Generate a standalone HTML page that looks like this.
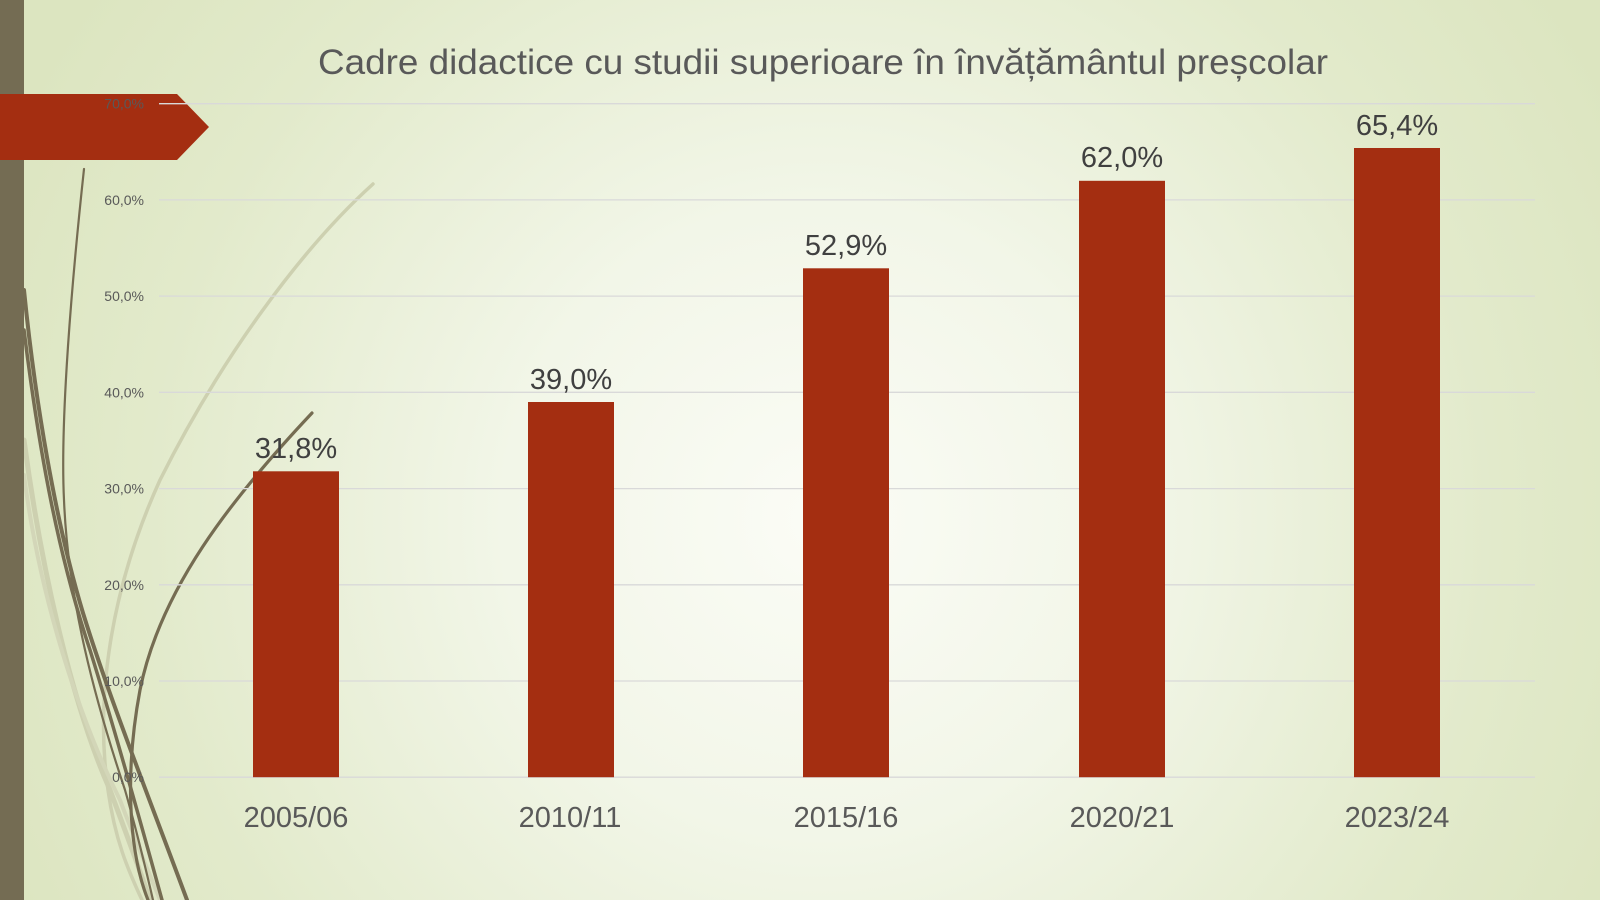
<!DOCTYPE html>
<html>
<head>
<meta charset="utf-8">
<style>
  html, body { margin:0; padding:0; width:1600px; height:900px; overflow:hidden; }
  svg { display:block; }
  text { font-family: "Liberation Sans", "DejaVu Sans", sans-serif; }
</style>
</head>
<body>
<svg width="1600" height="900" viewBox="0 0 1600 900" xmlns="http://www.w3.org/2000/svg">
  <defs>
    <radialGradient id="bg" gradientUnits="userSpaceOnUse" cx="820" cy="520" r="900">
      <stop offset="0" stop-color="#fbfcf6"/>
      <stop offset="0.35" stop-color="#f2f6e8"/>
      <stop offset="0.75" stop-color="#e2eacb"/>
      <stop offset="1" stop-color="#dce5c0"/>
    </radialGradient>
  </defs>
  <rect x="0" y="0" width="1600" height="900" fill="url(#bg)"/>

  <!-- light wisp curves -->
  <g fill="none" stroke="#cdd0b0" stroke-linecap="round">
    <path d="M373,184 C300,250 220,360 160,480 C110,590 95,700 108,790 C115,840 128,870 142,900" stroke-width="3.5"/>
    <path d="M24,440 C40,560 70,700 110,790 C125,830 138,865 150,900" stroke-width="5"/>
    <path d="M24,475 C40,600 80,720 120,800 C135,840 148,870 160,900" stroke-width="4" stroke="#d3d6b8"/>
  </g>

  <!-- dark wisp curves -->
  <g fill="none" stroke="#756c52" stroke-linecap="round">
    <path d="M84,169 C72,280 60,420 64,500 C68,600 95,700 125,790 C138,835 146,870 153,900" stroke-width="2.2"/>
    <path d="M24,290 C35,400 55,520 83,613 C110,700 150,800 187,900" stroke-width="4"/>
    <path d="M24,330 C40,460 60,560 90,650 C115,730 140,820 162,900" stroke-width="3.5"/>
    <path d="M312,413 C230,500 160,590 140,690 C125,770 128,850 148,900" stroke-width="3.2"/>
  </g>

  <!-- left bar -->
  <rect x="0" y="0" width="24" height="900" fill="#746c53"/>

  <!-- red arrow -->
  <polygon points="0,94 177,94 209,127 177,160 0,160" fill="#a42e11"/>

  <!-- gridlines -->
  <g stroke="#d9d9d9" stroke-width="1.3">
    <line x1="159" y1="103.7" x2="1535" y2="103.7"/>
    <line x1="159" y1="199.9" x2="1535" y2="199.9"/>
    <line x1="159" y1="296.1" x2="1535" y2="296.1"/>
    <line x1="159" y1="392.3" x2="1535" y2="392.3"/>
    <line x1="159" y1="488.6" x2="1535" y2="488.6"/>
    <line x1="159" y1="584.8" x2="1535" y2="584.8"/>
    <line x1="159" y1="681.0" x2="1535" y2="681.0"/>
    <line x1="159" y1="777.2" x2="1535" y2="777.2"/>
  </g>

  <!-- tick labels -->
  <g fill="#595959" font-size="14" text-anchor="end">
    <text x="144" y="108.7">70,0%</text>
    <text x="144" y="204.9">60,0%</text>
    <text x="144" y="301.1">50,0%</text>
    <text x="144" y="397.3">40,0%</text>
    <text x="144" y="493.6">30,0%</text>
    <text x="144" y="589.8">20,0%</text>
    <text x="144" y="686.0">10,0%</text>
    <text x="144" y="782.2">0,0%</text>
  </g>

  <!-- bars -->
  <g fill="#a42e11">
    <rect x="253" y="471.3" width="86" height="305.9"/>
    <rect x="528" y="402.0" width="86" height="375.2"/>
    <rect x="803" y="268.3" width="86" height="508.9"/>
    <rect x="1079" y="180.8" width="86" height="596.4"/>
    <rect x="1354" y="148.0" width="86" height="629.2"/>
  </g>

  <!-- data labels -->
  <g fill="#404040" font-size="29" text-anchor="middle">
    <text x="296" y="458">31,8%</text>
    <text x="571" y="389">39,0%</text>
    <text x="846" y="255">52,9%</text>
    <text x="1122" y="167">62,0%</text>
    <text x="1397" y="135">65,4%</text>
  </g>

  <!-- category labels -->
  <g fill="#595959" font-size="29" text-anchor="middle">
    <text x="296" y="827">2005/06</text>
    <text x="570" y="827">2010/11</text>
    <text x="846" y="827">2015/16</text>
    <text x="1122" y="827">2020/21</text>
    <text x="1397" y="827">2023/24</text>
  </g>

  <!-- title -->
  <text x="318" y="74" font-size="35" fill="#595959" textLength="1010" lengthAdjust="spacingAndGlyphs">Cadre didactice cu studii superioare în învățământul preșcolar</text>
</svg>
</body>
</html>
